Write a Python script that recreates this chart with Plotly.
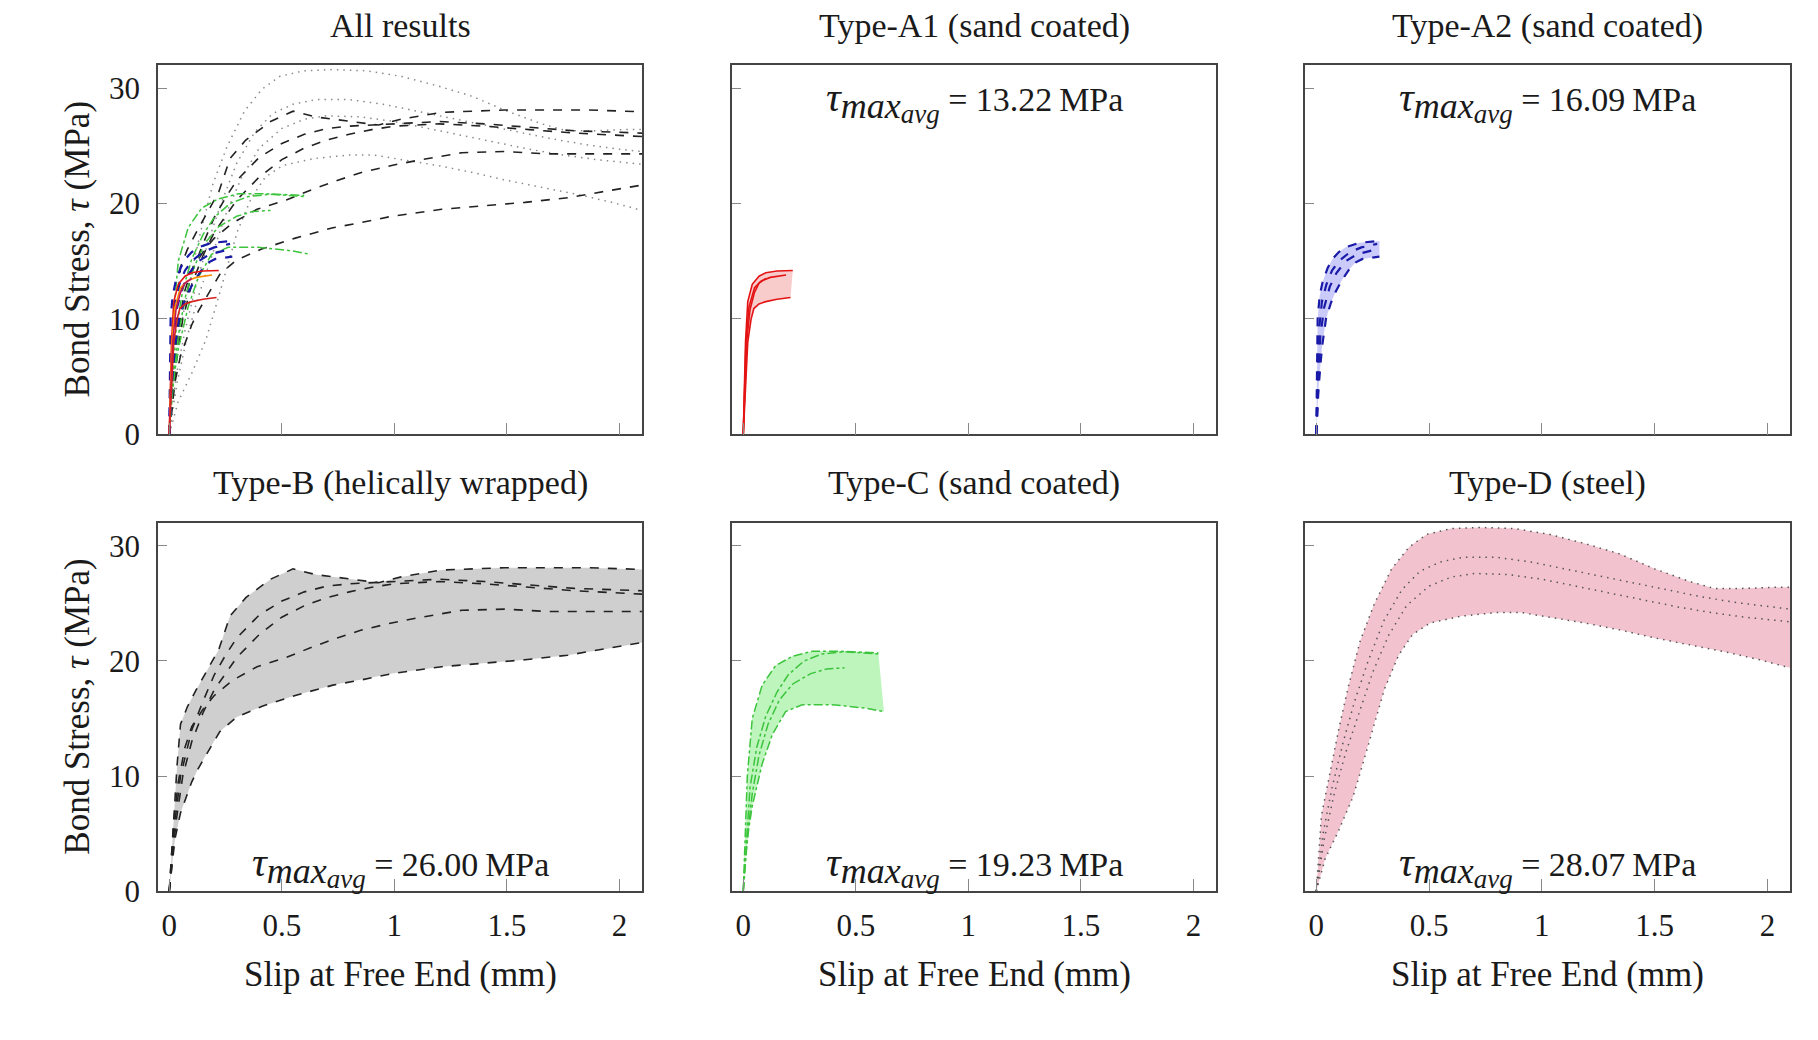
import plotly.graph_objects as go

# ---------------- data ----------------
x_ticks = [0, 0.5, 1, 1.5, 2]
x_tick_labels = ["0", "0.5", "1", "1.5", "2"]
y_ticks = [0, 10, 20, 30]
y_tick_labels = ["0", "10", "20", "30"]

titles = ["All results", "Type-A1 (sand coated)", "Type-A2 (sand coated)",
          "Type-B (helically wrapped)", "Type-C (sand coated)", "Type-D (steel)"]
tau_avg = ["", "13.22", "16.09", "26.00", "19.23", "28.07"]

# Type-A1 (sand coated) - red solid
a1_1_x = [0, 0.005, 0.01, 0.02, 0.04, 0.07, 0.1, 0.15, 0.22]
a1_1_y = [0, 4, 8, 11.5, 13.0, 13.7, 14.0, 14.15, 14.2]
a1_2_x = [0, 0.006, 0.012, 0.025, 0.05, 0.08, 0.12, 0.19]
a1_2_y = [0, 4, 8, 11, 12.7, 13.3, 13.6, 13.8]
a1_3_x = [0, 0.008, 0.015, 0.03, 0.05, 0.07, 0.1]
a1_3_y = [0, 4, 8, 10.8, 12.3, 13.1, 13.5]
a1_4_x = [0, 0.01, 0.02, 0.035, 0.047, 0.07, 0.1, 0.15, 0.21]
a1_4_y = [0, 4, 8, 10.0, 10.9, 11.3, 11.5, 11.7, 11.85]

# Type-A2 (sand coated) - blue dashed
a2_1_x = [0, 0.003, 0.006, 0.015, 0.028, 0.05, 0.072, 0.1, 0.13, 0.19, 0.28]
a2_1_y = [0, 4, 10, 12, 13.2, 14.4, 15.2, 15.8, 16.2, 16.6, 16.75]
a2_2_x = [0, 0.005, 0.012, 0.025, 0.045, 0.07, 0.1, 0.15, 0.2, 0.27]
a2_2_y = [0, 4, 9, 11.5, 13, 14.2, 15, 15.8, 16.2, 16.5]
a2_3_x = [0, 0.008, 0.018, 0.035, 0.06, 0.09, 0.13, 0.18, 0.26]
a2_3_y = [0, 4, 8.5, 11, 12.8, 14, 15, 15.6, 16.0]
a2_4_x = [0, 0.01, 0.025, 0.043, 0.065, 0.087, 0.115, 0.146, 0.175, 0.205, 0.28]
a2_4_y = [0, 4, 7.5, 10, 11.4, 12.4, 13.4, 14.3, 14.9, 15.2, 15.4]

# Type-B (helically wrapped) - black dashed
b_1_x = [0, 0.01, 0.02, 0.035, 0.05, 0.08, 0.12, 0.17, 0.22, 0.27, 0.34, 0.45, 0.55,
         0.65, 0.78, 0.93, 1.03, 1.21, 1.49, 1.86, 2.1]
b_1_y = [0, 3, 7, 11, 14.5, 16, 17.5, 19.2, 21, 23.9, 25.5, 27.1, 28.0,
         27.5, 27.2, 26.8, 27.3, 27.9, 28.1, 28.1, 27.95]
b_2_x = [0, 0.01, 0.025, 0.05, 0.1, 0.15, 0.2, 0.25, 0.3, 0.4, 0.5, 0.6, 0.7, 0.8,
         0.9, 1.0, 1.2, 1.4, 1.6, 1.8, 2.1]
b_2_y = [0, 2.5, 6, 10, 14, 16.5, 18.8, 20.5, 22, 24, 25.2, 26.0, 26.5, 26.7,
         26.8, 26.9, 27.1, 26.9, 26.6, 26.3, 26.1]
b_3_x = [0, 0.012, 0.03, 0.06, 0.1, 0.15, 0.2, 0.3, 0.4, 0.5, 0.6, 0.7, 0.8, 0.9,
         1.0, 1.2, 1.4, 1.6, 1.8, 2.0, 2.1]
b_3_y = [0, 2.5, 6, 10, 13, 15.5, 17.5, 20.3, 22.3, 23.8, 24.8, 25.5, 26.0, 26.4,
         26.7, 26.9, 26.7, 26.4, 26.1, 25.9, 25.8]
b_4_x = [0, 0.01, 0.02, 0.04, 0.07, 0.1, 0.15, 0.2, 0.28, 0.39, 0.52, 0.634, 0.746,
         0.857, 0.988, 1.12, 1.3, 1.49, 1.68, 1.9, 2.1]
b_4_y = [0, 3, 6, 9.5, 12.5, 14.3, 15.8, 17.0, 18.3, 19.5, 20.3, 21.2, 22.0,
         22.7, 23.3, 23.8, 24.4, 24.5, 24.3, 24.3, 24.3]
b_5_x = [0, 0.01, 0.025, 0.05, 0.075, 0.1, 0.13, 0.168, 0.224, 0.298, 0.41, 0.56,
         0.727, 0.84, 0.99, 1.21, 1.4, 1.58, 1.77, 1.96, 2.1]
b_5_y = [0, 2, 4.5, 6.8, 8.2, 9.5, 10.7, 12.0, 13.85, 15.1, 16.05, 17.0,
         17.9, 18.3, 18.9, 19.5, 19.8, 20.1, 20.5, 21.1, 21.6]

# Type-C (sand coated) - green dash-dot
c_1_x = [0, 0.01, 0.018, 0.04, 0.084, 0.144, 0.218, 0.307, 0.425, 0.6]
c_1_y = [0, 5, 10, 15, 17.9, 19.6, 20.4, 20.85, 20.85, 20.7]
c_2_x = [0, 0.015, 0.03, 0.06, 0.1, 0.15, 0.2, 0.27, 0.35, 0.45, 0.6]
c_2_y = [0, 5, 9, 12.5, 15.2, 17.3, 18.8, 20.0, 20.6, 20.8, 20.6]
c_3_x = [0, 0.02, 0.04, 0.07, 0.11, 0.16, 0.22, 0.3, 0.37, 0.45]
c_3_y = [0, 5, 8.5, 11.8, 14.5, 16.6, 18.0, 18.9, 19.3, 19.4]
c_4_x = [0, 0.01, 0.025, 0.04, 0.084, 0.129, 0.188, 0.262, 0.396, 0.544, 0.625]
c_4_y = [0, 3, 5.5, 7.4, 11.06, 13.6, 15.6, 16.2, 16.2, 15.9, 15.6]

# Type-D (steel) - dotted
d_1_x = [0, 0.023, 0.062, 0.101, 0.14, 0.194, 0.256, 0.334, 0.412, 0.49, 0.598, 0.723,
         0.878, 1.033, 1.19, 1.344, 1.5, 1.655, 1.764, 1.888, 2.03, 2.1]
d_1_y = [0, 6.6, 10.4, 14.2, 17.6, 21.7, 24.9, 28.0, 29.9, 31.0, 31.5, 31.6,
         31.5, 31.0, 30.2, 29.3, 28.0, 26.9, 26.3, 26.3, 26.4, 26.4]
d_2_x = [0, 0.03, 0.07, 0.12, 0.17, 0.23, 0.3, 0.38, 0.46, 0.55, 0.65, 0.8, 0.95,
         1.1, 1.25, 1.4, 1.55, 1.7, 1.85, 2.0, 2.1]
d_2_y = [0, 5, 9, 13, 16.5, 20, 23.5, 26.2, 27.8, 28.6, 29.0, 29.0, 28.6,
         28.0, 27.4, 26.8, 26.2, 25.6, 25.1, 24.7, 24.5]
d_3_x = [0, 0.035, 0.08, 0.13, 0.19, 0.25, 0.32, 0.4, 0.5, 0.6, 0.7, 0.85, 1.0,
         1.15, 1.3, 1.45, 1.6, 1.75, 1.9, 2.05, 2.1]
d_3_y = [0, 4.5, 8.5, 12, 15.5, 19, 22.2, 24.8, 26.5, 27.3, 27.6, 27.5, 27.1,
         26.5, 25.9, 25.3, 24.7, 24.2, 23.8, 23.5, 23.4]
d_4_x = [0, 0.039, 0.101, 0.163, 0.21, 0.256, 0.303, 0.365, 0.427, 0.505, 0.645, 0.8,
         0.909, 1.033, 1.19, 1.344, 1.5, 1.655, 1.81, 1.966, 2.1]
d_4_y = [0, 2.8, 5.35, 8.2, 11.3, 14.5, 17.6, 20.5, 22.3, 23.3, 23.9, 24.2,
         24.2, 23.8, 23.3, 22.7, 22.0, 21.4, 20.8, 20.1, 19.4]

# ---------------- styling ----------------
FONT = "Liberation Serif"
TXT = "#1a1a1a"
groups = [
    dict(curves=[(a1_1_x, a1_1_y), (a1_2_x, a1_2_y), (a1_3_x, a1_3_y), (a1_4_x, a1_4_y)],
         panel=2, color="#e41414", dash="solid", width=1.6, fill="rgba(245,170,170,0.6)",
         all_colors=["#e41414", "#ff8c00", "#c2185b", "#d62020"]),
    dict(curves=[(a2_1_x, a2_1_y), (a2_2_x, a2_2_y), (a2_3_x, a2_3_y), (a2_4_x, a2_4_y)],
         panel=3, color="#1a1aa8", dash="dash", width=2.2, fill="rgba(185,185,250,0.75)",
         all_colors=["#1a1aa8"] * 4),
    dict(curves=[(b_1_x, b_1_y), (b_2_x, b_2_y), (b_3_x, b_3_y), (b_4_x, b_4_y), (b_5_x, b_5_y)],
         panel=4, color="#222222", dash="dash", width=1.6, fill="#cfcfcf",
         all_colors=["#222222"] * 5),
    dict(curves=[(c_1_x, c_1_y), (c_2_x, c_2_y), (c_3_x, c_3_y), (c_4_x, c_4_y)],
         panel=5, color="#3cc43c", dash="dashdot", width=1.5, fill="#bdf5bd",
         all_colors=["#3cc43c"] * 4),
    dict(curves=[(d_1_x, d_1_y), (d_2_x, d_2_y), (d_3_x, d_3_y), (d_4_x, d_4_y)],
         panel=6, color="#555555", dash="1.5px,5px", width=1.5, fill="#f2c3cf",
         all_colors=["#8a8a8a"] * 4),
]

fig = go.Figure()


def ax(i):
    return ("x" if i == 1 else f"x{i}"), ("y" if i == 1 else f"y{i}")


for g in groups:
    xa, ya = ax(g["panel"])
    curves = g["curves"]
    upper = curves[0]
    lower = curves[-1]
    fig.add_trace(go.Scatter(
        x=list(upper[0]) + list(lower[0])[::-1],
        y=list(upper[1]) + list(lower[1])[::-1],
        xaxis=xa, yaxis=ya, mode="lines", fill="toself", fillcolor=g["fill"],
        line=dict(width=0), hoverinfo="skip", showlegend=False))
    for cx, cy in curves:
        fig.add_trace(go.Scatter(
            x=cx, y=cy, xaxis=xa, yaxis=ya, mode="lines",
            line=dict(color=g["color"], dash=g["dash"], width=g["width"]),
            showlegend=False))

for g in [groups[4], groups[2], groups[3], groups[1], groups[0]]:
    for (cx, cy), col in zip(g["curves"], g["all_colors"]):
        fig.add_trace(go.Scatter(
            x=cx, y=cy, xaxis="x", yaxis="y", mode="lines",
            line=dict(color=col, dash=g["dash"], width=g["width"]),
            showlegend=False))

# ---------------- layout ----------------
OFF = 8                      # page body margin
W, H = 1818 - 2 * OFF, 1040 - 2 * OFF
cols = [(158, 642), (732, 1216), (1305, 1790)]   # reference pixel positions
rows = [(66, 442), (532, 907)]


def px(v):
    return (v - OFF) / W


def py(v):
    return 1 - (v - OFF) / H


layout = dict(
    width=W, height=H, margin=dict(l=0, r=0, t=0, b=0),
    paper_bgcolor="white", plot_bgcolor="white",
    font=dict(family=FONT, size=30, color=TXT),
    showlegend=False,
)
tau_text = ("<i><span style='font-size:41px'>τ</span></i><sub><i>"
            "<span style='font-size:36px'>max</span></i><sub><i>"
            "<span style='font-size:27px'>avg</span></i></sub></sub>")
annotations = []
for i in range(1, 7):
    r = (i - 1) // 3
    c = (i - 1) % 3
    x0, x1 = cols[c]
    y0, y1 = rows[r]
    xs = "xaxis" if i == 1 else f"xaxis{i}"
    ys = "yaxis" if i == 1 else f"yaxis{i}"
    xa, ya = ax(i)
    layout[xs] = dict(
        domain=[px(x0), px(x1)], anchor=ya, range=[-0.05, 2.1],
        tickvals=x_ticks, ticktext=x_tick_labels, showticklabels=(r == 1),
        ticks="inside", ticklen=12, tickcolor="#888888", tickwidth=1.2,
        showline=True, mirror=True, linecolor="#444444", linewidth=1.6,
        showgrid=False, zeroline=False, ticklabelstandoff=6,
        tickfont=dict(family=FONT, size=31, color=TXT))
    layout[ys] = dict(
        domain=[py(y1), py(y0)], anchor=xa, range=[0, 32],
        tickvals=y_ticks, ticktext=y_tick_labels, showticklabels=(c == 0),
        ticks="inside", ticklen=9, tickcolor="#888888", tickwidth=1.2,
        showline=True, mirror=True, linecolor="#444444", linewidth=1.6,
        showgrid=False, zeroline=False, ticklabelstandoff=10,
        tickfont=dict(family=FONT, size=31, color=TXT))
    cx = px((x0 + x1) / 2)
    ty = 25.5 if i == 1 else (26 if r == 0 else 491.5)
    annotations.append(dict(
        text=titles[i - 1], x=cx, y=py(ty), xref="paper", yref="paper",
        xanchor="center", yanchor="middle", showarrow=False,
        font=dict(family=FONT, size=34, color=TXT)))
    if tau_avg[i - 1]:
        ann_y = 0.90 if r == 0 else 0.068
        annotations.append(dict(
            text=tau_text + " = " + tau_avg[i - 1] + "\u2009MPa",
            x=0.5, y=ann_y, xref=f"{xa} domain", yref=f"{ya} domain",
            xanchor="center", yanchor="middle", showarrow=False,
            font=dict(family=FONT, size=34, color=TXT)))
    if c == 0:
        annotations.append(dict(
            text="Bond Stress, <i>τ</i> (MPa)", x=px(77.7), y=py((y0 + y1) / 2),
            xref="paper", yref="paper", textangle=-90, xanchor="center",
            yanchor="middle", showarrow=False,
            font=dict(family=FONT, size=35, color=TXT)))
    if r == 1:
        annotations.append(dict(
            text="Slip at Free End (mm)", x=cx, y=py(991.5),
            xref="paper", yref="paper", xanchor="center", yanchor="middle",
            showarrow=False, font=dict(family=FONT, size=35, color=TXT)))

layout["annotations"] = annotations
fig.update_layout(**layout)
fig.write_html("out.html")
